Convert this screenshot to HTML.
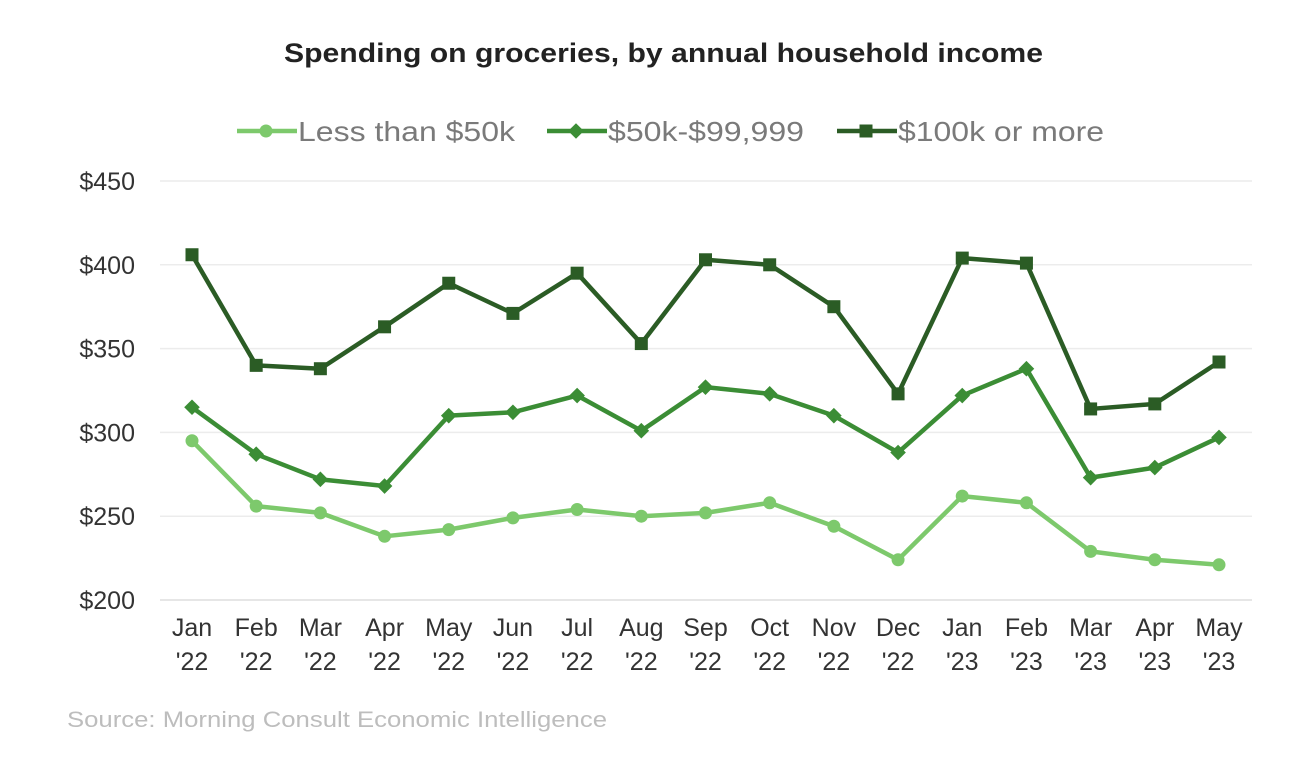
<!DOCTYPE html>
<html><head><meta charset="utf-8"><style>
body{margin:0;background:#fff;}
svg{display:block;font-family:"Liberation Sans",Arial,sans-serif;}
</style></head><body>
<svg id="chart" width="1312" height="757">
<text x="284" y="62" font-size="27" font-weight="bold" fill="#222" textLength="759" lengthAdjust="spacingAndGlyphs">Spending on groceries, by annual household income</text>
<g id="legend"></g>
<g id="grid"></g>
<g id="yaxis"></g>
<g id="xaxis"></g>
<g id="series"></g>
<text x="67" y="727" font-size="22" fill="#bdbdbd" textLength="540" lengthAdjust="spacingAndGlyphs">Source: Morning Consult Economic Intelligence</text>
</svg>
<script>
const months=["Jan","Feb","Mar","Apr","May","Jun","Jul","Aug","Sep","Oct","Nov","Dec","Jan","Feb","Mar","Apr","May"];
const years=["'22","'22","'22","'22","'22","'22","'22","'22","'22","'22","'22","'22","'23","'23","'23","'23","'23"];
const yTicks=[200,250,300,350,400,450];
const lessThan50k=[295,256,252,238,242,249,254,250,252,258,244,224,262,258,229,224,221];
const mid50to100k=[315,287,272,268,310,312,322,301,327,323,310,288,322,338,273,279,297];
const over100k=[406,340,338,363,389,371,395,353,403,400,375,323,404,401,314,317,342];
const seriesNames=["Less than $50k","$50k-$99,999","$100k or more"];

const NS="http://www.w3.org/2000/svg";
const X0=192,X1=1219,Y0=600,Y1=181,VMIN=200,VMAX=450;
const x=i=>X0+(X1-X0)*i/(months.length-1);
const y=v=>Y0-(v-VMIN)/(VMAX-VMIN)*(Y0-Y1);
function mk(tag,attrs,parent){const e=document.createElementNS(NS,tag);for(const k in attrs)e.setAttribute(k,attrs[k]);parent.appendChild(e);return e;}
const grid=document.getElementById('grid'),ya=document.getElementById('yaxis'),xa=document.getElementById('xaxis'),sg=document.getElementById('series'),lg=document.getElementById('legend');
yTicks.forEach(t=>{
  const l=mk('line',{x1:160,x2:1252,y1:y(t),y2:y(t),stroke:t===200?'#ddd':'#ececec','stroke-width':1.5},grid);
  
  
  const tx=mk('text',{x:135,y:y(t)+9,'text-anchor':'end','font-size':25,fill:'#333'},ya);
  tx.textContent='$'+t;
  
  
});
months.forEach((m,i)=>{
  const t=mk('text',{x:x(i),y:636,'text-anchor':'middle','font-size':25,fill:'#333'},xa);
  t.textContent=m;
  
  
  const t2=mk('text',{x:x(i),y:670,'text-anchor':'middle','font-size':25,fill:'#333'},xa);
  t2.textContent=years[i];
  
  
});
const colors=["#7dc96c","#3b8d35","#2b5c25"];
const shapes=["circle","diamond","square"];
function marker(s,cx,cy,c,p,r){
  let e;
  if(s==="circle")e=mk('circle',{cx,cy,r:r,fill:c},p);
  else if(s==="diamond")e=mk('path',{d:`M${cx} ${cy-r*1.2}L${cx+r*1.2} ${cy}L${cx} ${cy+r*1.2}L${cx-r*1.2} ${cy}Z`,fill:c},p);
  else e=mk('rect',{x:cx-r,y:cy-r,width:2*r,height:2*r,fill:c},p);
  return e;
}
const legX=[237,547,837],legW=[217,196,206];
[lessThan50k,mid50to100k,over100k].forEach((data,k)=>{
  const g=mk('g',{},sg);
  
  
  const pl=mk('polyline',{points:data.map((v,i)=>x(i)+','+y(v)).join(' '),fill:'none',stroke:colors[k],'stroke-width':4.5,'stroke-linejoin':'round'},g);
  
  
  data.forEach((v,i)=>{
    const m=marker(shapes[k],x(i),y(v),colors[k],g,6.5);
    
    
  });
  const lx=legX[k];
  const lgi=mk('g',{},lg);
  
  
  mk('line',{x1:lx,x2:lx+60,y1:131,y2:131,stroke:colors[k],'stroke-width':4.5},lgi);
  marker(shapes[k],lx+29,131,colors[k],lgi,6.5);
  const lt=mk('text',{x:lx+61,y:141,'font-size':28,fill:'#7a7a7a',textLength:legW[k],lengthAdjust:'spacingAndGlyphs'},lgi);
  lt.textContent=seriesNames[k];
});
</script>
</body></html>
